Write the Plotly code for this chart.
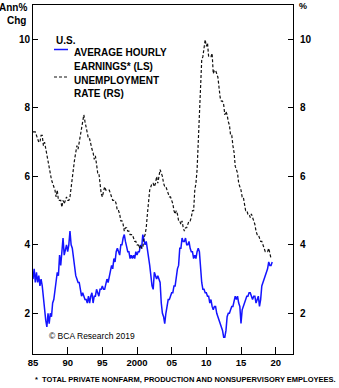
import plotly.graph_objects as go

# ---- data (six readings per year) ----
start_year = 1985.0
step = 1.0 / 6.0

earnings = [
    3.0, 3.3, 2.9, 3.2, 2.9, 3.1,   # 1985
    2.8, 3.0, 2.8, 2.4, 2.1, 1.8,   # 1986
    1.6, 2.0, 1.7, 2.0, 1.9, 2.3,   # 1987
    2.4, 2.7, 2.9, 3.2, 3.1, 3.7,   # 1988
    3.4, 3.9, 4.2, 3.7, 3.9, 4.0,   # 1989
    3.8, 4.0, 4.4, 4.0, 3.9, 3.6,   # 1990
    3.3, 3.1, 3.0, 2.9, 2.9, 2.7,   # 1991
    2.5, 2.6, 2.5, 2.4, 2.4, 2.3,   # 1992
    2.5, 2.3, 2.5, 2.6, 2.3, 2.5,   # 1993
    2.5, 2.7, 2.6, 2.5, 2.7, 2.7,   # 1994
    2.8, 2.7, 2.7, 2.9, 3.0, 2.9,   # 1995
    3.1, 3.3, 3.4, 3.3, 3.6, 3.5,   # 1996
    3.8, 3.9, 3.8, 3.7, 4.0, 4.0,   # 1997
    4.2, 4.3, 4.1, 3.9, 3.8, 3.8,   # 1998
    3.6, 3.7, 3.6, 3.7, 3.6, 3.8,   # 1999
    3.7, 3.8, 3.8, 4.0, 3.9, 4.3,   # 2000
    4.1, 4.0, 4.1, 3.9, 3.6, 3.4,   # 2001
    3.1, 2.8, 2.7, 3.2, 3.1, 3.0,   # 2002
    3.1, 3.0, 2.9, 2.3, 2.0, 1.9,   # 2003
    1.7, 2.0, 2.2, 2.4, 2.4, 2.5,   # 2004
    2.6, 2.6, 2.8, 2.8, 3.1, 3.3,   # 2005
    3.4, 3.9, 3.9, 4.2, 4.1, 4.1,   # 2006
    4.2, 4.0, 4.0, 4.1, 3.9, 3.8,   # 2007
    3.8, 3.6, 3.7, 3.6, 3.8, 3.9,   # 2008
    3.8, 3.3, 2.9, 2.7, 2.7, 2.6,   # 2009
    2.6, 2.5, 2.5, 2.3, 2.4, 2.2,   # 2010
    2.1, 2.2, 2.2, 2.0, 1.9, 1.8,   # 2011
    1.7, 1.6, 1.5, 1.3, 1.3, 1.5,   # 2012
    1.9, 2.0, 2.0, 2.1, 2.2, 2.2,   # 2013
    2.4, 2.5, 2.4, 2.5, 2.3, 2.2,   # 2014
    1.7, 2.1, 2.2, 2.3, 2.4, 2.5,   # 2015
    2.5, 2.6, 2.6, 2.5, 2.4, 2.5,   # 2016
    2.5, 2.3, 2.4, 2.5, 2.2, 2.4,   # 2017
    2.8, 2.9, 3.0, 3.1, 3.2, 3.3,   # 2018
    3.5, 3.4, 3.4, 3.5,             # 2019
]

unemployment = [
    7.3, 7.3, 7.3, 7.2, 7.1, 7.0,   # 1985
    7.0, 7.2, 7.2, 6.9, 7.0, 6.8,   # 1986
    6.6, 6.4, 6.2, 6.0, 5.9, 5.8,   # 1987
    5.7, 5.6, 5.4, 5.6, 5.3, 5.3,   # 1988
    5.3, 5.1, 5.3, 5.2, 5.3, 5.4,   # 1989
    5.3, 5.3, 5.4, 5.7, 5.9, 6.2,   # 1990
    6.5, 6.7, 6.9, 6.8, 7.0, 7.1,   # 1991
    7.3, 7.5, 7.8, 7.6, 7.4, 7.3,   # 1992
    7.1, 7.1, 6.9, 6.8, 6.7, 6.5,   # 1993
    6.6, 6.4, 6.1, 6.1, 5.8, 5.5,   # 1994
    5.4, 5.6, 5.7, 5.6, 5.6, 5.6,   # 1995
    5.6, 5.5, 5.4, 5.3, 5.3, 5.3,   # 1996
    5.2, 5.0, 5.0, 4.9, 4.7, 4.7,   # 1997
    4.6, 4.4, 4.5, 4.5, 4.4, 4.4,   # 1998
    4.3, 4.3, 4.3, 4.2, 4.1, 4.1,   # 1999
    4.0, 4.0, 3.9, 4.0, 3.9, 3.9,   # 2000
    4.2, 4.3, 4.5, 4.9, 5.3, 5.6,   # 2001
    5.7, 5.8, 5.8, 5.7, 5.8, 6.0,   # 2002
    5.8, 6.0, 6.2, 6.1, 6.0, 5.8,   # 2003
    5.7, 5.7, 5.6, 5.5, 5.4, 5.4,   # 2004
    5.3, 5.2, 5.0, 4.9, 5.0, 4.9,   # 2005
    4.7, 4.7, 4.6, 4.7, 4.5, 4.4,   # 2006
    4.5, 4.5, 4.6, 4.7, 4.7, 4.8,   # 2007
    5.0, 5.0, 5.6, 5.8, 6.2, 6.9,   # 2008
    7.8, 8.6, 9.4, 9.5, 9.8, 10.0,  # 2009
    9.8, 9.9, 9.5, 9.5, 9.5, 9.6,   # 2010
    9.0, 9.1, 9.1, 9.0, 8.9, 8.6,   # 2011
    8.3, 8.2, 8.2, 8.1, 7.8, 7.9,   # 2012
    7.8, 7.6, 7.5, 7.2, 7.2, 6.9,   # 2013
    6.7, 6.3, 6.2, 6.1, 5.8, 5.7,   # 2014
    5.6, 5.4, 5.4, 5.2, 5.0, 5.0,   # 2015
    4.9, 4.9, 4.8, 4.9, 4.8, 4.7,   # 2016
    4.6, 4.4, 4.3, 4.3, 4.2, 4.1,   # 2017
    4.1, 4.0, 3.9, 3.8, 3.8, 3.8,   # 2018
    3.9, 3.7, 3.6,                  # 2019
]

x_tick_vals = [1985, 1990, 1995, 2000, 2005, 2010, 2015, 2020]
x_tick_text = ["85", "90", "95", "2000", "05", "10", "15", "20"]
y_tick_vals = [2, 4, 6, 8, 10]
y_tick_text = ["2", "4", "6", "8", "10"]

x_earn = [start_year + i * step for i in range(len(earnings))]
x_unemp = [start_year + i * step for i in range(len(unemployment))]

FONT = "Liberation Sans, Arial, sans-serif"
W, H = 339, 388
L, R, T, B = 33, 46, 5, 34
PW, PH = W - L - R, H - T - B


def px(x):
    return (x - L) / PW


def py(y):
    return (H - B - y) / PH


fig = go.Figure()
fig.add_trace(go.Scatter(x=x_earn, y=earnings, mode="lines",
                         line=dict(color="#1414ff", width=1.5),
                         name="AVERAGE HOURLY EARNINGS* (LS)", showlegend=False))
fig.add_trace(go.Scatter(x=x_unemp, y=unemployment, mode="lines", yaxis="y2",
                         line=dict(color="#111111", width=1.2, dash="3px,2px"),
                         name="UNEMPLOYMENT RATE (RS)", showlegend=False))

yrange = [0.81, 11.01]
axis_common = dict(showgrid=False, zeroline=False, showline=True, linecolor="black",
                   linewidth=1, ticks="inside", tickcolor="black", tickwidth=1)

fig.update_layout(
    width=W, height=H,
    margin=dict(l=L, r=R, t=T, b=B, pad=0),
    paper_bgcolor="white", plot_bgcolor="white",
    xaxis=dict(range=[1985, 2022.5], tickvals=x_tick_vals, ticktext=x_tick_text,
               ticklen=7, mirror=True,
               tickfont=dict(family=FONT, size=9.5, color="black", weight="bold"),
               **axis_common),
    yaxis=dict(range=yrange, tickvals=y_tick_vals, ticktext=y_tick_text, ticklen=5,
               tickfont=dict(family=FONT, size=10, color="black", weight="bold"),
               **axis_common),
    yaxis2=dict(range=yrange, tickvals=y_tick_vals, ticktext=y_tick_text, ticklen=5,
                overlaying="y", side="right", ticklabelstandoff=4,
                tickfont=dict(family=FONT, size=10, color="black", weight="bold"),
                **axis_common),
    showlegend=False,
)

ann = []


def text(x, y, s, size=10, bold=True, anchor="left"):
    ann.append(dict(x=px(x), y=py(y), xref="paper", yref="paper", text=s,
                    showarrow=False, xanchor=anchor, yanchor="middle",
                    font=dict(family=FONT, size=size, color="black",
                              weight="bold" if bold else "normal")))


text(29, 8, "Ann%", 10, True, "right")
text(28, 20, "Chg", 10, True, "right")
text(297, 6, "%", 9, True, "left")
text(54, 40, "U.S.", 10)
text(72, 53, "AVERAGE HOURLY", 10)
text(72, 66, "EARNINGS* (LS)", 10)
text(72, 80, "UNEMPLOYMENT", 10)
text(72, 93, "RATE (RS)", 10)
text(47, 336, "© BCA Research 2019", 8.5, False)
text(33, 379, "*  TOTAL PRIVATE NONFARM, PRODUCTION AND NONSUPERVISORY EMPLOYEES.", 7.5, True)

fig.update_layout(annotations=ann)
fig.add_shape(type="line", xref="paper", yref="paper", x0=px(54), x1=px(68),
              y0=py(49.5), y1=py(49.5), line=dict(color="#1414ff", width=1.5))
fig.add_shape(type="line", xref="paper", yref="paper", x0=px(54), x1=px(68),
              y0=py(77), y1=py(77), line=dict(color="#111111", width=1.2, dash="3px,2px"))

fig.write_html("out.html")
